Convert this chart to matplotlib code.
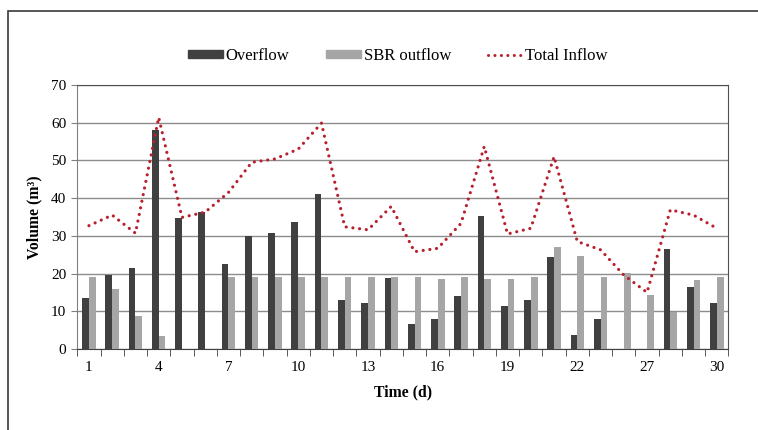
import numpy as np
import matplotlib
matplotlib.use('Agg')
import matplotlib.pyplot as plt
from matplotlib.patches import Rectangle
from matplotlib.lines import Line2D

# data
days = list(range(1, 25)) + [27, 28, 29, 30]
overflow = [13.4, 19.6, 21.4, 58.1, 34.8, 36.4, 22.5, 30.0, 30.8, 33.6, 41.0, 13.1, 12.1, 18.7,
            6.5, 7.9, 14.0, 35.2, 11.5, 13.1, 24.3, 3.7, 7.9, 0, 0, 26.4, 16.5, 12.1]
sbr_outflow = [19.0, 15.9, 8.8, 3.4, 0, 0, 19.0, 19.2, 19.2, 19.0, 19.0, 19.0, 19.0, 19.0,
               19.0, 18.6, 19.0, 18.6, 18.6, 19.0, 27.1, 24.7, 19.0, 20.1, 14.3, 9.7, 18.3, 19.0]
total_inflow = [32.7, 35.5, 30.7, 61.4, 34.9, 36.3, 41.5, 49.5, 50.4, 53.0, 59.9, 32.4, 31.6, 37.8,
                25.8, 26.7, 33.3, 53.7, 30.5, 32.0, 51.0, 28.5, 26.3, 19.6, 15.0, 36.9, 35.5, 32.0]

plt.rcParams['font.family'] = ['Liberation Serif', 'DejaVu Serif']

dark = '#404040'
light = '#a6a6a6'
red = '#b8202e'
dots = (0, (0.01, 2.1))

fig = plt.figure(figsize=(7.58, 4.30), dpi=100)
ax = fig.add_axes([0.102, 0.1884, 0.859, 0.6139])

# outer frame like the original chart area
fig.patches.append(Rectangle((8 / 758, -0.1), 1.2, 1 - 11 / 430 + 0.1, transform=fig.transFigure,
                             fill=False, edgecolor='#3a3a3a', lw=1.2))

x = np.arange(len(days))
w = 0.29
ax.bar(x - w / 2, overflow, w, color=dark, zorder=3)
ax.bar(x + w / 2, sbr_outflow, w, color=light, zorder=3)
ax.plot(x, total_inflow, color=red, lw=2.3, linestyle=dots,
        dash_capstyle='round', zorder=4)

ax.set_xlim(-0.5, len(days) - 0.5)
ax.set_ylim(0, 70)
ax.set_yticks(range(0, 71, 10))
ax.yaxis.grid(True, color='#8c8c8c', lw=1)
ax.set_axisbelow(True)

ax.set_xticks(x[::3])
ax.set_xticklabels([str(d) for d in days[::3]])
ax.set_xticks(np.arange(-0.5, len(days), 1), minor=True)
ax.tick_params(axis='x', which='major', length=0, pad=9, labelsize=11)
ax.tick_params(axis='x', which='minor', length=5, direction='out', color='#404040')
ax.tick_params(axis='y', length=4, direction='out', color='#808080', pad=4, labelsize=11)

for s in ['top', 'right']:
    ax.spines[s].set_color('#505050')
ax.spines['left'].set_color('#808080')
ax.spines['bottom'].set_color('#404040')

ax.set_xlabel('Time (d)', fontweight='bold', fontsize=11.3, labelpad=7)
ax.set_ylabel('Volume (m³)', fontweight='bold', fontsize=11.3, labelpad=6)

handles = [Rectangle((0, 0), 1, 1, color=dark), Rectangle((0, 0), 1, 1, color=light),
           Line2D([], [], color=red, lw=2.2, linestyle=dots, dash_capstyle='round')]
fig.legend(handles, ['Overflow', 'SBR outflow', 'Total Inflow'], loc='center',
           bbox_to_anchor=(0.525, 1 - 56 / 430), ncol=3, frameon=False, fontsize=12,
           handlelength=2.1, handleheight=0.35, handletextpad=0.15, columnspacing=2.2)

fig.savefig('out.png', dpi=100)
